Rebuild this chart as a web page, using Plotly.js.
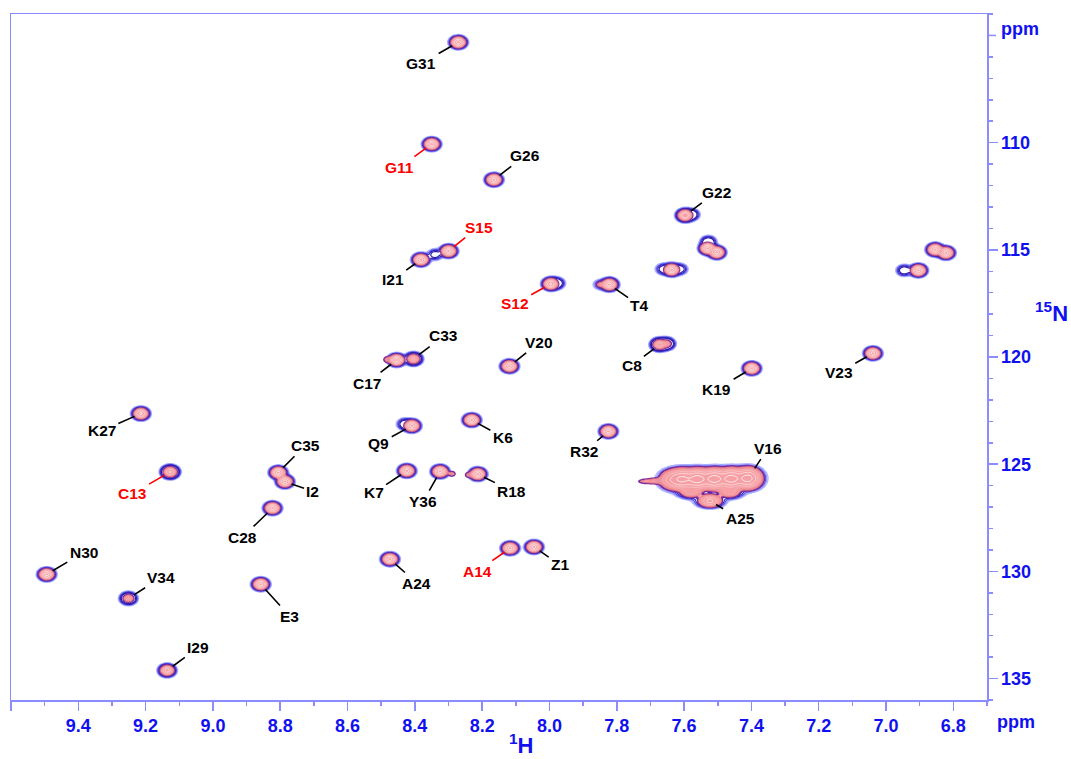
<!DOCTYPE html>
<html><head><meta charset="utf-8">
<script src="https://cdn.plot.ly/plotly-3.0.1.min.js"></script>
<style>html,body{margin:0;padding:0;background:#fff}#chart{width:1071px;height:759px}</style>
</head><body><div id="chart"></div>
<script>
// ---- assigned peaks (1H ppm, 15N ppm, relative intensities of red and blue spectra)
const peakLabels = ['G31','G11','G26','G22','S15','I21','S12','T4','C33','C17','V20','C8','K19','V23',
  'K27','Q9','K6','R32','C35','I2','C13','K7','Y36','R18','C28','N30','V34','A24','A14','Z1','E3','I29'];
const peakH = [8.271,8.350,8.165,7.597,8.300,8.382,7.996,7.822,8.404,8.454,8.119,7.673,7.399,7.039,
  9.214,8.409,8.231,7.825,8.806,8.786,9.127,8.424,8.325,8.213,8.823,9.494,9.251,8.474,8.117,8.046,8.858,9.136];
const peakN = [105.32,110.07,111.73,113.39,115.06,115.46,116.59,116.62,120.09,120.14,120.43,119.42,120.53,119.83,
  122.64,123.21,122.94,123.47,125.39,125.81,125.36,125.31,125.34,125.46,127.05,130.14,131.26,129.43,128.92,128.86,130.60,134.62];
const peakRed = [1,1,1,0.8,1,1,0.9,1,0.3,1,1,0.35,1,1,
  0.9,1,1,1,1,1,0.5,1,1,1,1,1,0.15,1,1,1,1,0.6];
const peakBlue = [1,1,1,1.2,1,1,1,1.2,1,1,1,1.2,1,1,
  1,1,1,1,1,1,1.6,1,1,1,1,1,0.7,1,1,1,1,0.9];
const redLabelSet = ['G11','S15','S12','C13','A14'];

// ---- unassigned peaks and shoulders
const extraH = [7.530,7.503,7.637,6.854,6.822,6.904,8.480,8.290,8.240,6.946,8.430,7.652,7.578,7.662,7.612,7.850,7.978,8.340,7.528];
const extraN = [114.93,115.12,115.93,114.99,115.14,115.96,120.12,125.45,125.50,115.96,123.13,119.38,113.36,115.90,115.90,116.62,116.56,115.22,114.62];
const extraRed = [1,1,1,1,1,1,0.07,0.05,0.05,0,0,0.1,0,0,0,0.06,0,0,0];
const extraBlue = [1,1,1,1,1,1,0,0,0,0.25,0.25,0.6,0.3,0.2,0.2,0.1,0.3,0.2,0.3];

// ---- broad overlapped region (V16 / A25): main ridge, then lower lobes
const blobLabels = ['V16','','','','','','A25','',''];
const blobH = [7.410,7.460,7.510,7.560,7.605,7.635,7.523,7.580,7.465];
const blobN = [125.66,125.68,125.69,125.70,125.70,125.72,126.71,126.30,126.30];
const blobRed = [1,1,1,1,0.8,0.35,0.55,0.2,0.2];
const blobBlue = [1,1,1,1,0.8,0.4,0.6,0.4,0.4];
const tailH = [7.680,7.715];
const tailN = [125.78,125.80];
const tailRed = [0.1,0.05];

// ---- label placement (pixel offsets of label from its peak) -- layout only
const labelOffset = {G31:[-37,21],G11:[-32,23],G26:[31,-24],G22:[31,-23],S15:[30,-24],I21:[-28,20],S12:[-36,20],
  T4:[30,21],C33:[30,-23],C17:[-30,23],V20:[30,-24],C8:[-28,21],K19:[-35,21],V23:[-34,19],K27:[-39,17],
  Q9:[-33,18],K6:[31,17],R32:[-24,20],C35:[27,-27],I2:[28,10],C13:[-38,22],K7:[-33,22],Y36:[-17,30],
  R18:[34,17],C28:[-30,29],N30:[37,-22],V34:[33,-21],A24:[27,24],A14:[-33,23],Z1:[26,18],E3:[29,32],
  I29:[31,-23],V16:[20,-30],A25:[30,18]};

// ---- grid
const X0=6.7, X1=9.6, DX=0.004, Y0=104, Y1=136, DY=0.06;
const nx=Math.round((X1-X0)/DX)+1, ny=Math.round((Y1-Y0)/DY)+1;
const xs=[], ys=[];
for(let i=0;i<nx;i++) xs.push(+(X0+i*DX).toFixed(4));
for(let j=0;j<ny;j++) ys.push(+(Y0+j*DY).toFixed(4));
function newGrid(){const g=[];for(let j=0;j<ny;j++) g.push(new Float64Array(nx));return g;}
function addPeaks(g,H,N,A,sx,sy){
  for(let k=0;k<H.length;k++){
    const a=A[k]; if(!a) continue;
    const i0=Math.max(0,Math.floor((H[k]-6*sx-X0)/DX)), i1=Math.min(nx-1,Math.ceil((H[k]+6*sx-X0)/DX));
    const j0=Math.max(0,Math.floor((N[k]-6*sy-Y0)/DY)), j1=Math.min(ny-1,Math.ceil((N[k]+6*sy-Y0)/DY));
    for(let j=j0;j<=j1;j++){
      const dy=(ys[j]-N[k])/sy, ey=Math.exp(-0.5*dy*dy);
      const row=g[j];
      for(let i=i0;i<=i1;i++){const dx=(xs[i]-H[k])/sx; row[i]+=a*ey*Math.exp(-0.5*dx*dx);}
    }
  }
}
function toLog(g){return g.map(r=>Array.from(r,v=>Math.log10(v+1e-6)));}

const sxR=0.0089, syR=0.105, sxB=0.0112, syB=0.13;
const red=newGrid(), blue=newGrid();
addPeaks(red,peakH,peakN,peakRed,sxR,syR);
addPeaks(red,extraH,extraN,extraRed,sxR,syR);
addPeaks(red,blobH.slice(0,6),blobN.slice(0,6),blobRed.slice(0,6),0.018,0.22);
addPeaks(red,blobH.slice(6),blobN.slice(6),blobRed.slice(6),0.015,0.13);
addPeaks(red,tailH,tailN,tailRed,0.018,0.08);
addPeaks(blue,peakH,peakN,peakBlue,sxB,syB);
addPeaks(blue,extraH,extraN,extraBlue,sxB,syB);
addPeaks(blue,blobH.slice(0,6),blobN.slice(0,6),blobBlue.slice(0,6),0.021,0.24);
addPeaks(blue,blobH.slice(6),blobN.slice(6),blobBlue.slice(6),0.02,0.15);
const zR=toLog(red), zB=toLog(blue);

const traces=[
  {type:'contour',x:xs,y:ys,z:zB,hoverinfo:'skip',showscale:false,
   contours:{coloring:'lines',start:-1.75,end:-0.95,size:0.2},
   zauto:false,zmin:-1.75,zmax:-0.95,
   colorscale:[[0,'#b4b8ff'],[0.3,'#8f92ff'],[0.6,'#3a2cd0'],[1,'#2a1aa8']],
   line:{width:1.2,smoothing:0.8}},
  {type:'contour',x:xs,y:ys,z:zR,hoverinfo:'skip',showscale:false,
   contours:{type:'constraint',operation:'<',value:-1.55},
   fillcolor:'rgba(245,150,155,0.9)',line:{color:'#7a2a9e',width:1.5,smoothing:0.8}},
  {type:'contour',x:xs,y:ys,z:zR,hoverinfo:'skip',showscale:false,
   contours:{coloring:'lines',start:-1.35,end:-0.1,size:0.25},
   zauto:false,zmin:-1.35,zmax:-0.1,
   colorscale:[[0,'#e8707a'],[0.5,'#f8b8b8'],[1,'#ffffff']],
   line:{width:0.8,smoothing:0.8}}
];

// ---- annotations
const PW=976, PH=686, PL=11, PB=700;
const px2x=p=>(p-PL)/PW, py2y=p=>(PB-p)/PH;
const ann=[];
function addLabel(lab,h,n){
  if(!lab) return;
  const o=labelOffset[lab]; const c=redLabelSet.includes(lab)?'#ff0000':'#000000';
  ann.push({x:h,y:n,xref:'x',yref:'y',text:'<b>'+lab+'</b>',ax:o[0],ay:o[1],
    showarrow:true,arrowhead:0,arrowwidth:1.6,arrowcolor:c,standoff:lab==='V16'?12:7,startstandoff:1,
    font:{family:'Liberation Sans, Arial, sans-serif',size:15.5,color:c}});
}
peakLabels.forEach((l,i)=>addLabel(l,peakH[i],peakN[i]));
blobLabels.forEach((l,i)=>addLabel(l,blobH[i],blobN[i]));
const blueFont={family:'Liberation Sans, Arial, sans-serif',size:18,color:'#1010f0'};
function unitAnn(px,py,text,font){
  ann.push({xref:'paper',yref:'paper',x:px2x(px),y:py2y(py),xanchor:'center',yanchor:'middle',
    text:text,showarrow:false,font:font});
}
unitAnn(1020,29,'<b>ppm</b>',blueFont);
unitAnn(1016,722,'<b>ppm</b>',blueFont);
const titleFont={family:'Liberation Sans, Arial, sans-serif',size:22,color:'#1010f0'};
unitAnn(521,744,'<b><sup>1</sup>H</b>',titleFont);
unitAnn(1051,312,'<b><sup>15</sup>N</b>',titleFont);

const axLine='#8a8cff';
const layout={
  width:1071,height:759,margin:{l:11,r:84,t:14,b:59},
  paper_bgcolor:'#fff',plot_bgcolor:'#fff',showlegend:false,hovermode:false,
  xaxis:{range:[9.6,6.7],tickmode:'linear',tick0:9.4,dtick:0.2,tickformat:'.1f',
    showgrid:false,zeroline:false,showline:true,mirror:true,linecolor:axLine,linewidth:1.5,
    ticks:'outside',ticklen:9,tickwidth:1.5,tickcolor:axLine,
    tickfont:{family:'Liberation Sans, Arial, sans-serif',size:18,color:'#1010f0',weight:'bold'},
    minor:{ticks:'outside',tickmode:'linear',tick0:9.5,dtick:0.2,ticklen:4,tickwidth:1.5,tickcolor:axLine,showgrid:false}},
  yaxis:{range:[136,104],side:'right',tickmode:'array',tickvals:[110,115,120,125,130,135],
    showgrid:false,zeroline:false,showline:true,mirror:true,linecolor:axLine,linewidth:1.5,
    ticks:'outside',ticklen:9,tickwidth:1.5,tickcolor:axLine,
    tickfont:{family:'Liberation Sans, Arial, sans-serif',size:18,color:'#1010f0',weight:'bold'},
    minor:{ticks:'outside',tickmode:'linear',tick0:104,dtick:1,ticklen:4,tickwidth:1.5,tickcolor:axLine,showgrid:false}},
  annotations:ann,
  // major tick at 105, whose label place is taken by the "ppm" unit
  shapes:[{type:'line',xref:'paper',yref:'y',x0:1,x1:1+9/976,y0:105,y1:105,line:{color:axLine,width:1.5}}]
};
Plotly.newPlot('chart',traces,layout,{staticPlot:true,displayModeBar:false});
</script></body></html>
